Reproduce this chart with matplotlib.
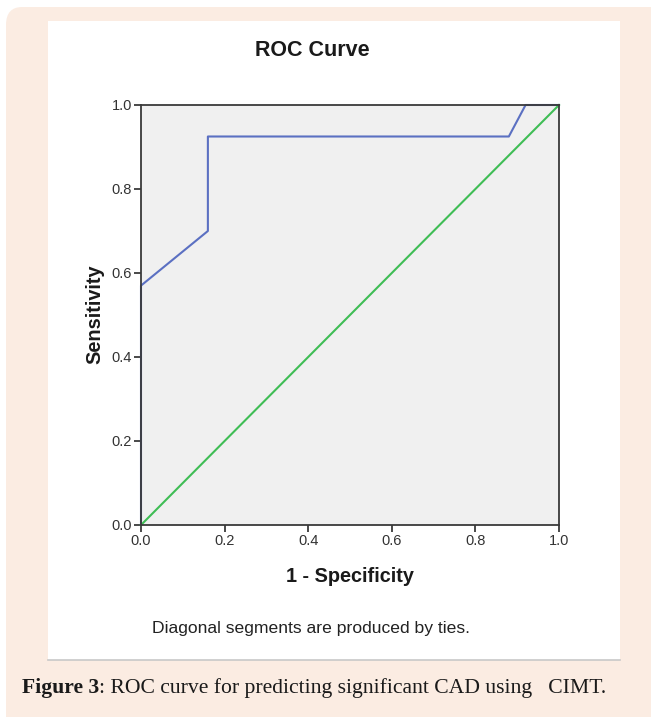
import matplotlib
matplotlib.use("Agg")
import matplotlib.pyplot as plt
from matplotlib.patches import FancyBboxPatch, Rectangle
from matplotlib.lines import Line2D

# ---- data ----
fpr = [0.0, 0.0, 0.16, 0.16, 0.88, 0.92, 1.0]
tpr = [0.0, 0.57, 0.70, 0.925, 0.925, 1.0, 1.0]
ref_x = [0.0, 1.0]
ref_y = [0.0, 1.0]
ticks = [0.0, 0.2, 0.4, 0.6, 0.8, 1.0]
tick_labels = ["0.0", "0.2", "0.4", "0.6", "0.8", "1.0"]

W, H = 651, 717
fig = plt.figure(figsize=(W / 100, H / 100), dpi=100)
fig.patch.set_facecolor("white")

def fx(px):
    return px / W

def fy(py):
    return 1 - py / H

# peach background with rounded top-left corner (extends past right/bottom edges)
peach = FancyBboxPatch((fx(6), -0.5), 2.0, fy(7) + 0.5,
                       boxstyle="round,pad=0,rounding_size=0.025",
                       transform=fig.transFigure, facecolor="#fbece2",
                       edgecolor="none", zorder=0)
fig.patches.append(peach)
# white panel
panel = Rectangle((fx(48), fy(660)), fx(620) - fx(48), fy(21) - fy(660),
                  transform=fig.transFigure, facecolor="white",
                  edgecolor="none", zorder=1)
fig.patches.append(panel)
fig.lines.append(Line2D([fx(48), fx(620)], [fy(660), fy(660)],
                        transform=fig.transFigure, color="#c8c8c8", lw=1.2, zorder=2))

ax = fig.add_axes([fx(141), fy(525), fx(559) - fx(141), fy(105) - fy(525)])
ax.set_zorder(3)
ax.set_facecolor("#f0f0f0")
ax.plot(fpr, tpr, color="#5b70c2", lw=1.5, zorder=2.2, clip_on=False)
ax.plot(ref_x, ref_y, color="#3fbd55", lw=1.5, zorder=2.3, clip_on=False)
ax.set_xlim(0, 1)
ax.set_ylim(0, 1)
ax.set_xticks(ticks)
ax.set_xticklabels(tick_labels)
ax.set_yticks(ticks)
ax.set_yticklabels(tick_labels)
for s in ax.spines.values():
    s.set_color("#3a3a3a")
    s.set_linewidth(1.3)
    s.set_zorder(2.5)
ax.tick_params(direction="out", length=5, width=1.3, color="#3a3a3a",
               labelsize=10.5, labelcolor="#333333", pad=1.5)
for lab in ax.get_xticklabels() + ax.get_yticklabels():
    lab.set_family("Liberation Sans")

ax.set_xlabel("1 - Specificity", fontsize=14.3, fontweight="bold",
              family="Liberation Sans", color="#1a1a1a", va="center")
ax.xaxis.set_label_coords(0.5, (525 - 576) / 420)
ax.set_ylabel("Sensitivity", fontsize=14.3, fontweight="bold",
              family="Liberation Sans", color="#1a1a1a", va="center")
ax.yaxis.set_label_coords((95 - 141) / 418, (525 - 314) / 420)

fig.text(fx(312), fy(50), "ROC Curve", fontsize=15.5, family="Liberation Sans",
         fontweight="bold", ha="center", va="center", color="#1a1a1a", zorder=4)
fig.text(fx(311.5), fy(628), "Diagonal segments are produced by ties.", fontsize=12.6,
         family="Liberation Sans", ha="center", va="center", color="#222222", zorder=4)

t1 = fig.text(fx(22), fy(688), "Figure 3", fontsize=15.6, family="Liberation Serif",
              fontweight="bold", ha="left", va="center", color="#1a1a1a", zorder=4)
fig.canvas.draw()
bb = t1.get_window_extent()
fig.text(bb.x1 / W, fy(688), ": ROC curve for predicting significant CAD using   CIMT.",
         fontsize=15.6, family="Liberation Serif", ha="left", va="center",
         color="#1a1a1a", zorder=4)

fig.savefig("out.png", dpi=100)
